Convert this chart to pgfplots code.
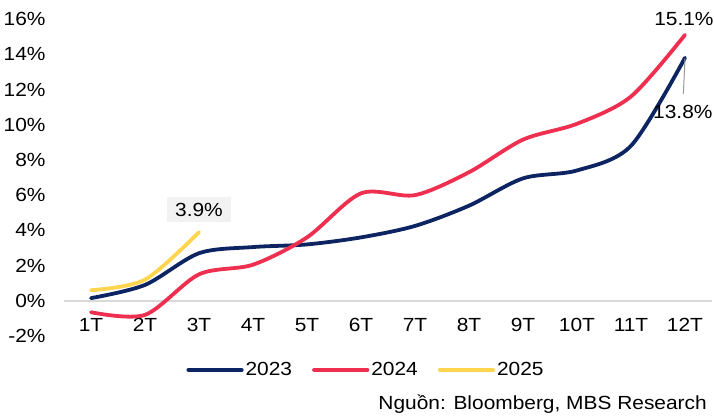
\documentclass[border=0pt]{standalone}
\usepackage{fontspec}
\setmainfont[FakeStretch=1.1]{Liberation Sans}
\usepackage{pgfplots}
\pgfplotsset{compat=1.18}
\definecolor{cnavy}{HTML}{0C2461}
\definecolor{cred}{HTML}{EE2F4F}
\definecolor{cyellow}{HTML}{FFD44F}
\begin{document}
\fontsize{19bp}{22bp}\selectfont
\begin{tikzpicture}
\begin{axis}[name=ax, scale only axis, width=648bp, height=317bp,
  xmin=0.5, xmax=12.5, ymin=-2, ymax=16,
  xtick={1,2,3,4,5,6,7,8,9,10,11,12},
  xticklabels={1T,2T,3T,4T,5T,6T,7T,8T,9T,10T,11T,12T},
  ytick={-2,0,2,4,6,8,10,12,14,16},
  yticklabel={\pgfmathprintnumber{\tick}\%},
  /pgf/number format/assume math mode=true,
  axis line style={draw=none}, major tick length=0pt, tick style={draw=none},
  extra y ticks={0}, extra y tick labels={},
  extra y tick style={grid=major, major grid style={color=black!15, line width=1.5bp}},
  clip=false,
  every tick label/.append style={font=\fontsize{19bp}{22bp}\selectfont},
  yticklabel style={anchor=east, xshift=-12bp},
  xticklabel style={anchor=center, yshift=11bp},
  legend columns=3,
  legend style={draw=none, fill=none, at={(0.466,-0.107)}, anchor=center,
    font=\fontsize{19bp}{22bp}\selectfont,
    /tikz/every even column/.append style={column sep=18bp},
    nodes={inner xsep=2bp}},
  legend image code/.code={\draw[#1, line width=4.2bp, line cap=round] (0bp,0bp) -- (53bp,0bp);},
  every axis plot/.append style={line width=3.8bp, line cap=round, smooth, tension=0.5, no markers},
]
\addplot[cnavy] coordinates {(1,0.15) (2,0.9) (3,2.7) (4,3.05) (5,3.2) (6,3.6) (7,4.25) (8,5.4) (9,6.95) (10,7.4) (11,8.8) (12,13.8)};
\addlegendentry{2023}
\addplot[cred] coordinates {(1,-0.65) (2,-0.8) (3,1.5) (4,2.05) (5,3.6) (6,6.1) (7,6.0) (8,7.3) (9,9.15) (10,10.05) (11,11.6) (12,15.1)};
\addlegendentry{2024}
\addplot[cyellow] coordinates {(1,0.6) (2,1.2) (3,3.9)};
\addlegendentry{2025}
\node[fill=black!5, inner xsep=8bp, inner ysep=6bp] at (axis cs:3,5.17) {3.9\%};
\node at (axis cs:11.98,16) {15.1\%};
\draw[black!40, line width=1bp] (axis cs:12,13.75) -- (axis cs:11.97,11.75);
\node at (axis cs:11.96,10.7) {13.8\%};
\node[anchor=east, inner xsep=0pt] at (rel axis cs:0.9923,-0.2145) {Nguồn: Bloomberg, MBS Research};
\end{axis}
\pgfresetboundingbox
\path ([xshift=-64bp,yshift=-82bp]ax.south west) rectangle ([xshift=2bp,yshift=19bp]ax.north east);
\end{tikzpicture}
\end{document}
